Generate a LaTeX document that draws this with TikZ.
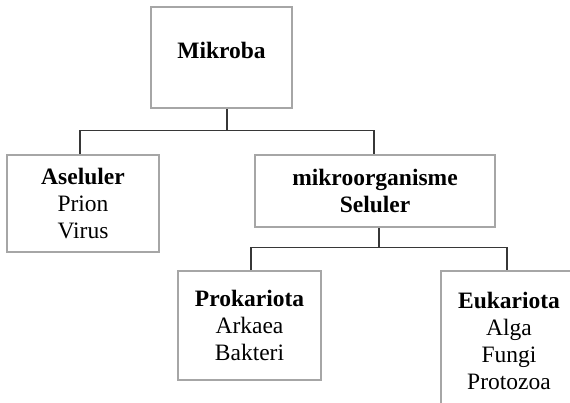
\documentclass[tikz,border=0pt]{standalone}
\usepackage{fontspec}
\setmainfont{Liberation Serif}
\usetikzlibrary{positioning}
\definecolor{box_gray}{RGB}{166,166,166}
\definecolor{link_gray}{RGB}{55,55,55}
\begin{document}
\begin{tikzpicture}[x=1pt,y=-1pt]
    \tikzstyle{taxon}=[draw=box_gray, line width=1.6pt, rectangle, align=center, inner sep=0pt, font=\fontsize{23.5}{27}\selectfont, text=black]
    \tikzstyle{link}=[draw=link_gray, line width=1.2pt]
    \useasboundingbox (0,0) rectangle (570,402);
    \clip (0,0) rectangle (570,402);

    \node[taxon, minimum width=141pt, minimum height=101pt, text depth=15pt] (mik) at (221.5,57.5) {\textbf{Mikroba}};
    \node[taxon, minimum width=152pt, minimum height=97pt]  (ase) at (83,203.5)   {\textbf{Aseluler}\\Prion\\Virus};
    \node[taxon, minimum width=240pt, minimum height=72pt]  (sel) at (375,191)    {\textbf{mikroorganisme}\\\textbf{Seluler}};
    \node[taxon, minimum width=143pt, minimum height=109pt] (pro) at (249.5,325.5) {\textbf{Prokariota}\\Arkaea\\Bakteri};
    \node[taxon, minimum width=136pt, minimum height=140pt] (euk) at (509,341) {\textbf{Eukariota}\\Alga\\Fungi\\Protozoa};

    % junctions of the tree
    \path ([xshift=5.5pt]mik.south) ++(0,22) coordinate (j1);
    \path ([xshift=4pt]sel.south) ++(0,20) coordinate (j2);

    \draw[link] ([xshift=5.5pt]mik.south) -- (j1);
    \draw[link] ([xshift=-3pt]ase.north) |- (j1) -| ([xshift=-1pt]sel.north);
    \draw[link] ([xshift=4pt]sel.south) -- (j2);
    \draw[link] ([xshift=1.5pt]pro.north) |- (j2) -| ([xshift=-2pt]euk.north);
\end{tikzpicture}
\end{document}
